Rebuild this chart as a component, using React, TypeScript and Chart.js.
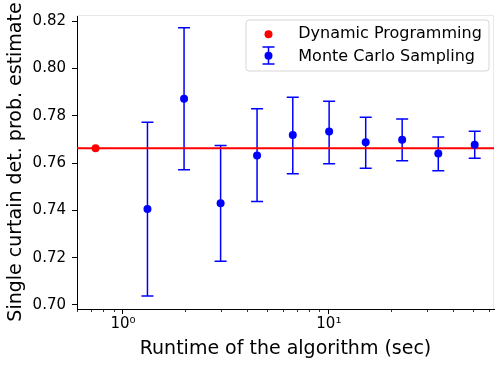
import React, { useEffect, useRef } from "react";
import { Chart, registerables } from "chart.js";

Chart.register(...registerables);

// ---- data ----
const dpRuntime = [0.736];
const dpEstimate = [0.7663];
const mcRuntime = [1.315, 1.98, 2.98, 4.48, 6.68, 10.03, 15.1, 22.7, 34.0, 51.1];
const mcEstimate = [0.7406, 0.7872, 0.743, 0.7632, 0.7719, 0.7733, 0.7688, 0.7699, 0.764, 0.7677];
const mcUpper = [0.7773, 0.8172, 0.7674, 0.783, 0.7878, 0.7861, 0.7794, 0.7786, 0.771, 0.7735];
const mcLower = [0.7038, 0.7572, 0.7185, 0.7437, 0.7555, 0.7597, 0.7578, 0.761, 0.7568, 0.762];
const xMajorTicks = [1, 10];
const xMajorLabels = ["10\u2070", "10\u00B9"];
const xMinorTicks = [0.6, 0.7, 0.8, 0.9, 2, 3, 4, 5, 6, 7, 8, 9, 20, 30, 40, 50, 60];
const yTicks = [0.7, 0.72, 0.74, 0.76, 0.78, 0.8, 0.82];
const xRange = [0.598, 63.4];
const yRange = [0.6983, 0.8226];
const xTitle = "Runtime of the algorithm (sec)";
const yTitle = "Single curtain det. prob. estimate";
const legendLabels = ["Dynamic Programming", "Monte Carlo Sampling"];

const FONT = "'DejaVu Sans', sans-serif";
const BLUE = "#0000ff";
const RED = "#ff0000";

const decorPlugin = {
  id: "decor",
  beforeDatasetsDraw(chart: any) {
    const { ctx, chartArea } = chart;
    const xs = chart.scales.x;
    const ys = chart.scales.y;
    ctx.save();
    // faint top/right frame
    ctx.strokeStyle = "#e8e8e8";
    ctx.lineWidth = 1;
    ctx.beginPath();
    ctx.moveTo(chartArea.left, chartArea.top + 0.5);
    ctx.lineTo(chartArea.right - 0.5, chartArea.top + 0.5);
    ctx.lineTo(chartArea.right - 0.5, chartArea.bottom);
    ctx.stroke();
    // error bars
    ctx.strokeStyle = BLUE;
    ctx.lineWidth = 1.5;
    mcRuntime.forEach((x, i) => {
      const px = xs.getPixelForValue(x);
      const pt = ys.getPixelForValue(mcUpper[i]);
      const pb = ys.getPixelForValue(mcLower[i]);
      ctx.beginPath();
      ctx.moveTo(px, pt);
      ctx.lineTo(px, pb);
      ctx.moveTo(px - 6, pt);
      ctx.lineTo(px + 6, pt);
      ctx.moveTo(px - 6, pb);
      ctx.lineTo(px + 6, pb);
      ctx.stroke();
    });
    ctx.restore();
  },
  afterDraw(chart: any) {
    const { ctx, chartArea } = chart;
    const xs = chart.scales.x;
    ctx.save();
    // minor ticks
    ctx.strokeStyle = "#000";
    ctx.lineWidth = 0.8;
    xMinorTicks.forEach((v) => {
      const px = Math.round(xs.getPixelForValue(v)) + 0.5;
      ctx.beginPath();
      ctx.moveTo(px, chartArea.bottom);
      ctx.lineTo(px, chartArea.bottom + 3);
      ctx.stroke();
    });
    // axis titles
    ctx.fillStyle = "#000";
    ctx.font = `19px ${FONT}`;
    ctx.textAlign = "center";
    ctx.textBaseline = "alphabetic";
    ctx.fillText(xTitle, (chartArea.left + chartArea.right) / 2, 354);
    ctx.save();
    ctx.translate(21, (chartArea.top + chartArea.bottom) / 2);
    ctx.rotate(-Math.PI / 2);
    ctx.fillText(yTitle, 0, 0);
    ctx.restore();
    // legend
    const lx = 246, ly = 20, lw = 243, lh = 51, r = 3;
    ctx.beginPath();
    ctx.moveTo(lx + r, ly);
    ctx.lineTo(lx + lw - r, ly);
    ctx.arcTo(lx + lw, ly, lx + lw, ly + r, r);
    ctx.lineTo(lx + lw, ly + lh - r);
    ctx.arcTo(lx + lw, ly + lh, lx + lw - r, ly + lh, r);
    ctx.lineTo(lx + r, ly + lh);
    ctx.arcTo(lx, ly + lh, lx, ly + lh - r, r);
    ctx.lineTo(lx, ly + r);
    ctx.arcTo(lx, ly, lx + r, ly, r);
    ctx.closePath();
    ctx.fillStyle = "rgba(255,255,255,0.8)";
    ctx.fill();
    ctx.strokeStyle = "#d6d6d6";
    ctx.lineWidth = 1;
    ctx.stroke();
    // markers
    ctx.fillStyle = RED;
    ctx.beginPath();
    ctx.arc(268.5, 34.3, 4, 0, Math.PI * 2);
    ctx.fill();
    ctx.strokeStyle = BLUE;
    ctx.lineWidth = 1.5;
    ctx.beginPath();
    ctx.moveTo(268.5, 47);
    ctx.lineTo(268.5, 64);
    ctx.moveTo(262.5, 47);
    ctx.lineTo(274.5, 47);
    ctx.moveTo(262.5, 64);
    ctx.lineTo(274.5, 64);
    ctx.stroke();
    ctx.fillStyle = BLUE;
    ctx.beginPath();
    ctx.arc(268.5, 55.7, 4, 0, Math.PI * 2);
    ctx.fill();
    ctx.fillStyle = "#000";
    ctx.font = `16px ${FONT}`;
    ctx.textAlign = "left";
    ctx.fillText(legendLabels[0], 298.3, 38.3);
    ctx.fillText(legendLabels[1], 298.3, 61);
    ctx.restore();
  },
};

export default function App() {
  const ref = useRef<HTMLCanvasElement | null>(null);
  useEffect(() => {
    document.body.style.margin = "0";
    const canvas = ref.current;
    if (!canvas) return;
    const chart = new Chart(canvas, {
      type: "scatter",
      data: {
        datasets: [
          {
            type: "line",
            data: [
              { x: xRange[0], y: dpEstimate[0] },
              { x: xRange[1], y: dpEstimate[0] },
            ],
            borderColor: RED,
            borderWidth: 2,
            pointRadius: 0,
            order: 2,
          } as any,
          {
            data: mcRuntime.map((x, i) => ({ x, y: mcEstimate[i] })),
            backgroundColor: BLUE,
            borderColor: BLUE,
            borderWidth: 0,
            pointRadius: 4,
            order: 1,
          },
          {
            data: dpRuntime.map((x, i) => ({ x, y: dpEstimate[i] })),
            backgroundColor: RED,
            borderColor: RED,
            borderWidth: 0,
            pointRadius: 4,
            order: 0,
          },
        ],
      },
      options: {
        responsive: false,
        animation: false,
        devicePixelRatio: 1,
        layout: { padding: { left: 0, top: 12, right: 1, bottom: 0 } },
        plugins: { legend: { display: false }, tooltip: { enabled: false } },
        scales: {
          x: {
            type: "logarithmic",
            min: xRange[0],
            max: xRange[1],
            afterFit: (s: any) => {
              s.height = 83;
            },
            afterBuildTicks: (s: any) => {
              s.ticks = xMajorTicks.map((v) => ({ value: v, major: true }));
            },
            ticks: {
              autoSkip: false,
              maxRotation: 0,
              padding: 1,
              color: "#000",
              font: { family: FONT, size: 15 },
              callback: (v: any) => {
                const i = xMajorTicks.indexOf(Number(v));
                return i >= 0 ? xMajorLabels[i] : "";
              },
            },
            grid: { drawOnChartArea: false, drawTicks: true, tickLength: 5, color: "#000" },
            border: { display: true, color: "#000", width: 1 },
          },
          y: {
            type: "linear",
            min: yRange[0],
            max: yRange[1],
            afterFit: (s: any) => {
              s.width = 77;
            },
            afterBuildTicks: (s: any) => {
              s.ticks = yTicks.map((v) => ({ value: v }));
            },
            ticks: {
              padding: 6,
              color: "#000",
              font: { family: FONT, size: 15 },
              callback: (v: any) => Number(v).toFixed(2),
            },
            grid: { drawOnChartArea: false, drawTicks: true, tickLength: 5, color: "#000" },
            border: { display: true, color: "#000", width: 1 },
          },
        },
      },
      plugins: [decorPlugin],
    });
    return () => chart.destroy();
  }, []);
  return (
    <div style={{ width: 498, height: 392, background: "#fff" }}>
      <canvas ref={ref} width={498} height={392} />
    </div>
  );
}
